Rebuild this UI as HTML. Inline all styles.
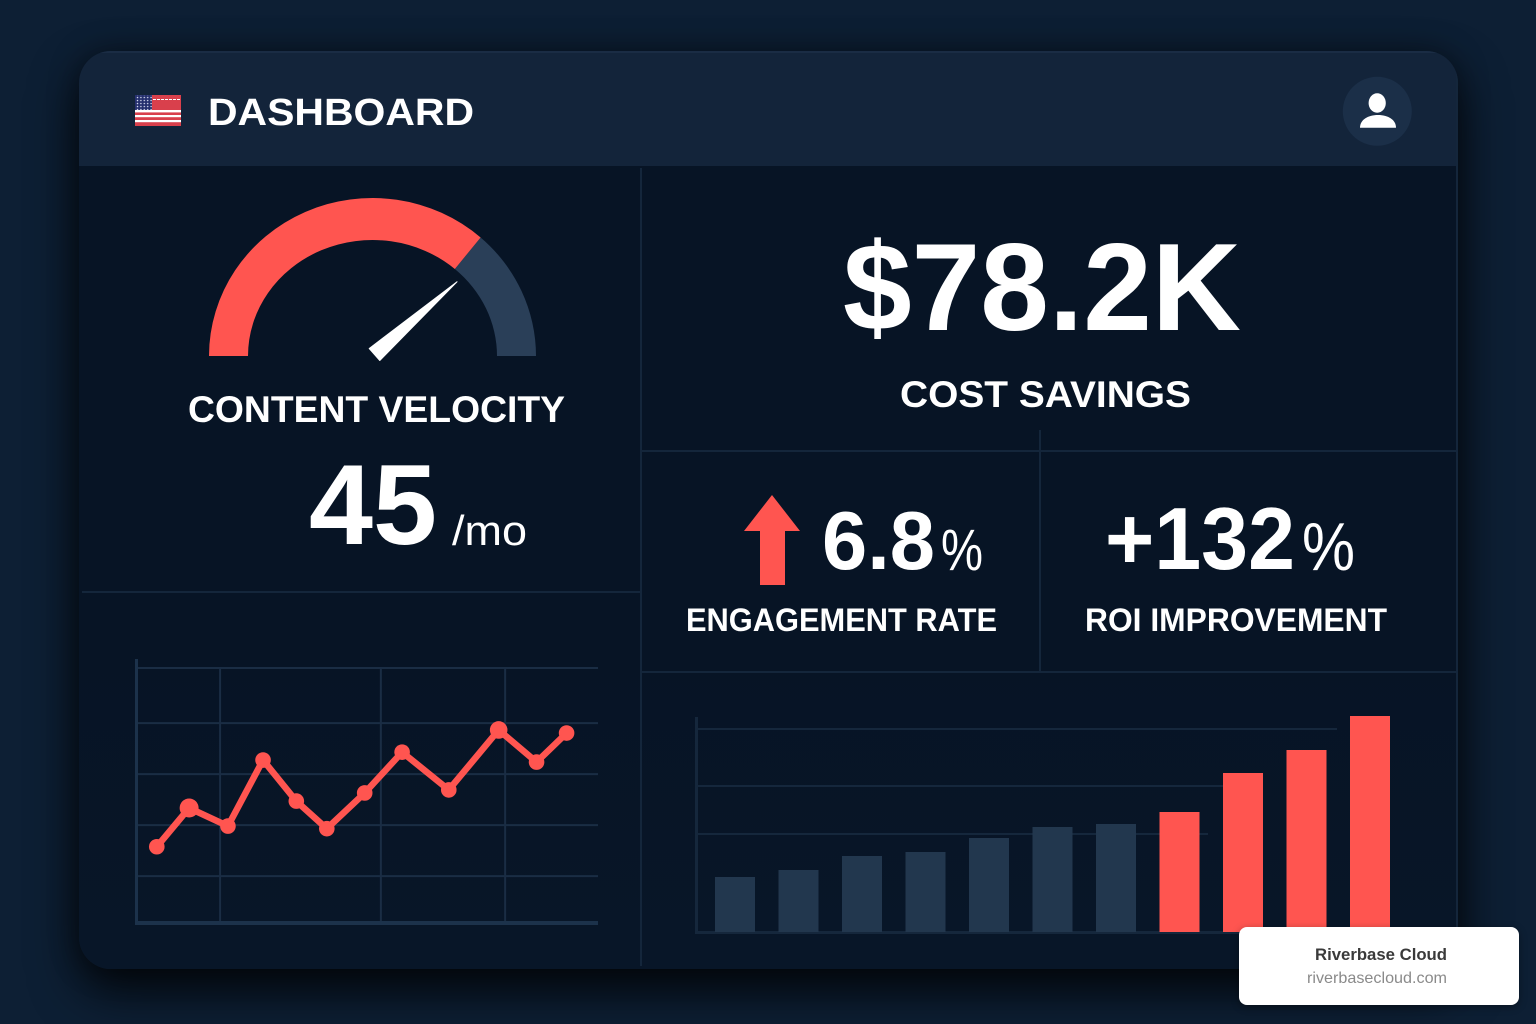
<!DOCTYPE html>
<html lang="en">
<head>
<meta charset="utf-8">
<title>Dashboard</title>
<style>
html,body{margin:0;padding:0;width:1536px;height:1024px;overflow:hidden;background:#0d1f34}
#bg{position:absolute;left:0;top:0;width:1536px;height:1024px;background:#0d1f34}
#card{position:absolute;left:79px;top:51px;width:1379px;height:918px;border-radius:32px;background:linear-gradient(#071425 0%,#071425 65%,#081628 100%);box-shadow:0 22px 48px rgba(0,0,0,.8),0 0 30px rgba(0,0,0,.35);overflow:hidden;box-sizing:border-box}
#card-head{position:absolute;left:0;top:0;width:100%;height:115px;background:#13243a;border-top:2px solid #1a2c44;box-sizing:border-box}
#card-edge{position:absolute;right:0;top:0;width:2px;height:100%;background:#14263b}
svg{position:absolute;left:0;top:0}
text{font-family:"Liberation Sans",sans-serif;fill:#fff}
#badge{position:absolute;left:1239px;top:927px;width:280px;height:78px;background:#fff;border-radius:8px;box-shadow:0 2px 8px rgba(0,0,0,.35)}
#badge text{fill:#3a3a3a}
</style>
</head>
<body>
<div id="bg"></div>
<div id="card">
  <div id="card-head"></div>
  <div id="card-edge"></div>
</div>
<svg id="main" width="1536" height="1024" viewBox="0 0 1536 1024">
  <defs>
    <pattern id="stars" width="3.4" height="3" patternUnits="userSpaceOnUse"><circle cx="1.5" cy="1.5" r=".75" fill="#d8dcf0"/></pattern>
  </defs>
  <g stroke="#14263b" stroke-width="2" fill="none">
    <line x1="641" y1="168" x2="641" y2="966"/>
    <line x1="82" y1="592" x2="641" y2="592"/>
    <line x1="641" y1="451" x2="1456" y2="451"/>
    <line x1="1040" y1="430" x2="1040" y2="672"/>
    <line x1="641" y1="672" x2="1456" y2="672"/>
  </g>
  <g>
    <rect x="135" y="95" width="46" height="31" fill="#d9404c"/>
    <rect x="135" y="110" width="46" height="2.4" fill="#fff"/>
    <rect x="135" y="115" width="46" height="2.2" fill="#fff"/>
    <rect x="135" y="120" width="46" height="2.2" fill="#fff"/>
    <line x1="153" y1="99.5" x2="180" y2="99.5" stroke="#fff" stroke-width="1" stroke-dasharray="3 1"/>
    <rect x="135" y="95" width="17" height="15" fill="#25306e"/>
    <rect x="135" y="95" width="17" height="15" fill="url(#stars)"/>
  </g>
  <text x="208" y="125" font-size="38" font-weight="700" textLength="266" lengthAdjust="spacingAndGlyphs">DASHBOARD</text>
  <g>
    <circle cx="1377.3" cy="111.3" r="34.5" fill="#1b2f48"/>
    <ellipse cx="1377.2" cy="103" rx="8.6" ry="9.8" fill="#fff"/>
    <path d="M1360 127.7 c0-8 8-12.7 18-12.7 s18 4.7 18 12.7 z" fill="#fff"/>
  </g>
  <g id="gauge"></g>
  <text x="188" y="422" font-size="37" font-weight="700" textLength="377" lengthAdjust="spacingAndGlyphs">CONTENT VELOCITY</text>
  <text x="309" y="544" font-size="114" font-weight="700" textLength="128" lengthAdjust="spacingAndGlyphs">45</text>
  <text x="452" y="545" font-size="42" textLength="75" lengthAdjust="spacingAndGlyphs">/mo</text>
  <text x="843" y="330" font-size="124" font-weight="700" textLength="398" lengthAdjust="spacingAndGlyphs">$78.2K</text>
  <text x="900" y="407" font-size="37" font-weight="700" textLength="291" lengthAdjust="spacingAndGlyphs">COST SAVINGS</text>
  <path d="M772 495 L800 531 H785 V585 H760 V531 H744 Z" fill="#ff5550"/>
  <text x="822" y="569" font-size="83" font-weight="700" textLength="113" lengthAdjust="spacingAndGlyphs">6.8</text>
  <text x="941" y="570" font-size="58" textLength="42" lengthAdjust="spacingAndGlyphs">%</text>
  <text x="686" y="631" font-size="32" font-weight="700" textLength="311" lengthAdjust="spacingAndGlyphs">ENGAGEMENT RATE</text>
  <text x="1105" y="569" font-size="88" font-weight="700" textLength="190" lengthAdjust="spacingAndGlyphs">+132</text>
  <text x="1302" y="570" font-size="68" textLength="53" lengthAdjust="spacingAndGlyphs">%</text>
  <text x="1085" y="631" font-size="32" font-weight="700" textLength="302" lengthAdjust="spacingAndGlyphs">ROI IMPROVEMENT</text>
  <g id="line-chart"></g>
  <g id="bar-chart"></g>
</svg>
<div id="badge">
  <svg width="280" height="78" viewBox="0 0 280 78">
    <text x="76" y="33" font-size="17" font-weight="700" textLength="132" lengthAdjust="spacingAndGlyphs">Riverbase Cloud</text>
    <text x="68" y="56" font-size="16" textLength="140" lengthAdjust="spacingAndGlyphs" style="fill:#8a8a8a">riverbasecloud.com</text>
  </svg>
</div>
<script>
var NS = 'http://www.w3.org/2000/svg';

/* ---- chart data ---- */
var gaugeFill = 73;
var gaugeNeedle = 77;
var lineTimes = [4.5, 11.5, 19.9, 27.5, 34.7, 41.3, 49.5, 57.6, 67.7, 78.5, 86.7, 93.2];
var lineValues = [29.9, 45.1, 38, 63.9, 47.8, 37, 51, 67, 52.2, 75.7, 63.1, 74.5];
var lineGridValues = [18.4, 38.4, 58.4, 78.4, 100];
var lineGridTimes = [18.2, 53, 79.9];
var barCategories = ['b1', 'b2', 'b3', 'b4', 'b5', 'b6', 'b7', 'b8', 'b9', 'b10', 'b11'];
var barValues = [55, 62, 76, 80, 94, 105, 108, 120, 159, 182, 216];
var barHighlightFrom = 7;
var barGridValues = [98, 146, 203];

function make(tag, attrs, parent) {
  var el = document.createElementNS(NS, tag);
  for (var k in attrs) el.setAttribute(k, attrs[k]);
  parent.appendChild(el);
  return el;
}

/* ---- gauge ---- */
var gauge = document.getElementById('gauge');
var gcx = 372.5, gcy = 356;
function gaugeAngle(v) { return Math.PI * (1 - v / 100); }
function gaugePt(v, rx, ry) {
  var a = gaugeAngle(v);
  return [gcx + rx * Math.cos(a), gcy - ry * Math.sin(a)];
}
function ringPath(v0, v1) {
  var o = [163.5, 158], n = [124.5, 116];
  var a = gaugePt(v0, o[0], o[1]), b = gaugePt(v1, o[0], o[1]);
  var c = gaugePt(v1, n[0], n[1]), d = gaugePt(v0, n[0], n[1]);
  return 'M' + a + ' A' + o[0] + ' ' + o[1] + ' 0 0 1 ' + b +
         ' L' + c + ' A' + n[0] + ' ' + n[1] + ' 0 0 0 ' + d + ' Z';
}
var trackArc = make('path', {d: ringPath(gaugeFill, 100), fill: '#2a3f58'}, gauge);


var fillArc = make('path', {d: ringPath(0, gaugeFill), fill: '#ff5550'}, gauge);


(function () {
  var a = gaugeAngle(gaugeNeedle);
  var bx = 374.5, by = 354.5;
  var tip = [bx + 110 * Math.cos(a), by - 110 * Math.sin(a)];
  var px = Math.sin(a) * 8, py = Math.cos(a) * 8;
  var pts = [tip, [bx - px, by - py], [bx + px, by + py]];
  var needle = make('polygon', {points: pts.join(' '), fill: '#fff', 'stroke': '#fff', 'stroke-width': 1, 'stroke-linejoin': 'round'}, gauge);
  
  
})();

/* ---- line chart ---- */
var lc = document.getElementById('line-chart');
function lineX(t) { return 136 + t * 4.62; }
function lineY(v) { return 923 - v * 2.55; }
lineGridValues.forEach(function (v) {
  var g = make('line', {x1: 137, x2: 598, y1: lineY(v), y2: lineY(v), stroke: '#1a2d44', 'stroke-width': 2}, lc);
  
  
});
lineGridTimes.forEach(function (t) {
  var g = make('line', {x1: lineX(t), x2: lineX(t), y1: 668, y2: 923, stroke: '#1a2d44', 'stroke-width': 2}, lc);
  
  
});
var lyAxis = make('line', {x1: 136.5, x2: 136.5, y1: 659, y2: 925, stroke: '#1c324b', 'stroke-width': 3}, lc);


var lxAxis = make('line', {x1: 135, x2: 598, y1: lineY(0), y2: lineY(0), stroke: '#1c324b', 'stroke-width': 4}, lc);


var linePts = lineValues.map(function (v, i) { return lineX(lineTimes[i]) + ',' + lineY(v); }).join(' ');
var trend = make('polyline', {points: linePts, fill: 'none', stroke: '#ff5550', 'stroke-width': 6.5, 'stroke-linejoin': 'miter'}, lc);


lineValues.forEach(function (v, i) {
  var r = i === 1 ? 9.5 : (i === 9 ? 8.8 : 7.8);
  var dot = make('circle', {cx: lineX(lineTimes[i]), cy: lineY(v), r: r, fill: '#ff5550'}, lc);
  
  
});

/* ---- bar chart ---- */
var bc = document.getElementById('bar-chart');
function barX(i) { return 715 + i * 63.5; }
function barY(v) { return 932 - v; }
barGridValues.forEach(function (v, i) {
  var ends = [1208, 1223, 1337];
  var g = make('line', {x1: 697, x2: ends[i], y1: barY(v), y2: barY(v), stroke: '#15273c', 'stroke-width': 2}, bc);
  
  
});
var byAxis = make('line', {x1: 696.5, x2: 696.5, y1: 717, y2: 933, stroke: '#15273c', 'stroke-width': 3}, bc);


var bxAxis = make('line', {x1: 695, x2: 1390, y1: barY(0) + 0.5, y2: barY(0) + 0.5, stroke: '#15273c', 'stroke-width': 3}, bc);


barValues.forEach(function (v, i) {
  var bar = make('rect', {x: barX(i), y: barY(v), width: 40, height: v, fill: i >= barHighlightFrom ? '#ff5550' : '#22374e'}, bc);
  
  
});
</script>
</body>
</html>
